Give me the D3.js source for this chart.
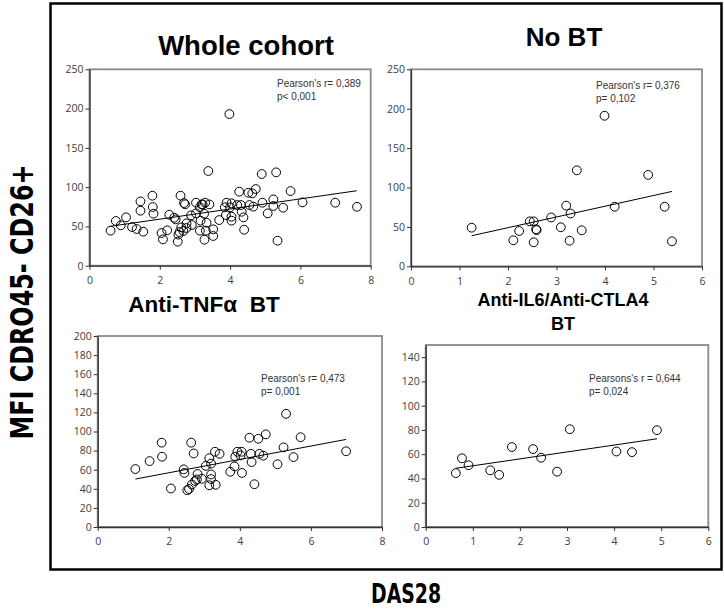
<!DOCTYPE html>
<html><head><meta charset="utf-8">
<script src="https://cdn.jsdelivr.net/npm/d3@7"></script>
<style>body{margin:0;background:#fff} text{white-space:pre}</style>
</head><body><svg id="c" width="724" height="611"></svg>
<script>
// ---------- DATA ----------
const titles = ["Whole cohort", "No BT", "Anti-TNFα  BT", "Anti-IL6/Anti-CTLA4", "BT"];
const yAxisTitle = "MFI CDRO45- CD26+";
const xAxisTitle = "DAS28";

const wholeX = [0.60,0.75,0.89,1.04,1.21,1.34,1.45,1.45,1.53,1.79,1.80,1.82,2.05,2.09,2.21,2.27,2.41,2.45,2.51,2.53,2.56,2.59,2.61,2.67,2.69,2.72,2.76,2.76,2.89,2.91,3.03,3.03,3.14,3.16,3.19,3.26,3.27,3.31,3.29,3.33,3.38,3.14,
  3.52,3.52,3.69,3.88,3.85,3.90,4.00,4.04,4.04,4.04,4.20,4.26,4.31,4.33,4.38,4.40,4.52,4.55,4.63,4.66,4.73,4.90,4.92,5.07,5.23,5.23,5.31,5.35,5.51,5.72,6.06,6.99,3.98,7.61,3.41,3.22];
const wholeY = [44.6,56.9,51.4,61.5,49.2,46.7,81.9,70.0,43.3,89.1,74.7,66.2,41.6,33.5,45.0,64.9,61.1,59.0,30.6,39.5,42.9,89.1,48.8,44.1,79.8,78.1,48.0,53.9,64.1,51.8,80.2,66.6,74.3,57.3,78.1,66.2,33.1,44.6,80.2,54.7,120.5,44.6,
  46.3,37.8,58.1,64.5,74.3,80.2,74.3,79.4,62.4,57.3,77.2,94.2,77.2,68.7,61.5,45.8,92.9,77.2,92.1,75.1,97.6,116.7,80.2,66.6,84.4,76.0,118.8,31.8,73.8,95.0,80.6,80.2,193,75,78,78];

const noBtX = [1.25,2.11,2.23,2.45,2.53,2.58,2.59,2.53,2.89,3.09,3.20,3.29,3.27,3.52,3.42,3.99,4.20,4.89,5.23,5.38];
const noBtY = [49,33,44.8,57,57,47,46,30.5,62,49.5,77,67,32.5,45.7,121.8,191,75.6,116,75.6,31.7];

const tnfX = [1.06,1.46,1.80,1.81,2.06,2.42,2.44,2.63,2.70,2.52,2.57,2.65,2.74,2.79,2.81,2.93,3.04,3.14,3.14,3.19,3.30,3.43,3.19,3.19,3.32,3.73,3.85,3.87,3.93,4.05,4.02,4.06,4.27,4.31,4.33,4.41,4.52,4.55,4.66,4.73,5.06,5.23,5.30,5.51,5.71,6.99];
const tnfY = [60.7,69,88.3,73.6,40.3,60.4,56.6,88.3,77,38.5,39.8,44.5,48.2,49.8,55.5,50.5,64,72,43.7,66.4,78.8,76.6,55,50.2,44.2,57.8,63.4,73.6,78.8,78.8,75,56.6,93.5,76.6,68,44.8,92.4,76.6,74.7,97,65.7,83.4,118.5,73.2,94,79.3];

const il6X = [0.64,0.77,0.91,1.37,1.56,1.83,2.28,2.45,2.79,3.06,4.05,4.38,4.91];
const il6Y = [44.4,56.6,50.9,46.7,43,65.9,64.2,57.1,45.6,80.6,62.2,61.7,79.8];

// trend lines: [x0, y0, x1, y1]
const wholeTrend = [0.6, 50.2, 7.6, 95.4];
const noBtTrend = [1.25, 38.8, 5.38, 95];
const tnfTrend = [1.06, 50.2, 6.99, 91.7];
const il6Trend = [0.64, 48.4, 4.91, 72.7];

const xTicks8 = [0,2,4,6,8];
const xTicks6 = [0,1,2,3,4,5,6];
const yTicks250 = [0,50,100,150,200,250];
const yTicks200 = [0,20,40,60,80,100,120,140,160,180,200];
const yTicks150 = [0,20,40,60,80,100,120,140];

const statsWhole = ["Pearson's r= 0,389", "p< 0,001"];
const statsNoBt = ["Pearson's r= 0,376", "p= 0,102"];
const statsTnf = ["Pearson's r= 0,473", "p= 0,001"];
const statsIl6 = ["Pearsons's r = 0,644", "p= 0,024"];

// ---------- DRAW ----------
const svg = d3.select("#c");
svg.append("rect").attr("x",50.5).attr("y",3.5).attr("width",671).attr("height",566)
  .attr("fill","none").attr("stroke","#000").attr("stroke-width",2.5);

const tickFont = "'Open Sans', sans-serif";

function panel(o){
  const x = d3.scaleLinear().domain([0,o.xmax]).range([o.l,o.r]);
  const y = d3.scaleLinear().domain([0,o.ymax]).range([o.b,o.t]);
  const g = svg.append("g");
  g.append("rect").attr("x",o.l).attr("y",o.t).attr("width",o.r-o.l).attr("height",o.b-o.t)
    .attr("fill","none").attr("stroke","#8a8a8a").attr("stroke-width",1.8);
  const ya = g.append("g").attr("transform",`translate(${o.l},0)`)
    .call(d3.axisLeft(y).tickValues(o.yt).tickSize(4).tickSizeOuter(0).tickFormat(d3.format("d")));
  const xa = g.append("g").attr("transform",`translate(0,${o.b})`)
    .call(d3.axisBottom(x).tickValues(o.xt).tickSize(4).tickSizeOuter(0).tickFormat(d3.format("d")));
  [ya,xa].forEach(a=>{
    a.select(".domain").attr("stroke","#333").attr("stroke-width",1.3);
    a.selectAll(".tick line").attr("stroke","#333");
    a.selectAll(".tick text").attr("fill","#404040").style("font-family",tickFont).style("font-size","10.5px");
  });
  ya.selectAll(".tick text").attr("x",-6);
  xa.selectAll(".tick text").attr("y",11);
  g.append("line").attr("x1",x(o.tr[0])).attr("y1",y(o.tr[1])).attr("x2",x(o.tr[2])).attr("y2",y(o.tr[3]))
    .attr("stroke","#000").attr("stroke-width",1);
  g.selectAll("circle").data(d3.range(o.xs.length)).join("circle")
    .attr("cx",i=>x(o.xs[i])).attr("cy",i=>y(o.ys[i])).attr("r",4.4)
    .attr("fill","none").attr("stroke","#000").attr("stroke-width",1);
  o.st.forEach((s,i)=>g.append("text").attr("x",o.sx).attr("y",o.sy+i*12.5).text(s)
    .attr("fill","#333").style("font-family","'Liberation Sans', Arial, sans-serif").style("font-size","10px"));
}

panel({xmax:8,ymax:250,l:89.5,r:370.7,t:69.3,b:265.7,xt:xTicks8,yt:yTicks250,xs:wholeX,ys:wholeY,tr:wholeTrend,st:statsWhole,sx:277,sy:87});
panel({xmax:6,ymax:250,l:411,r:702,t:69.3,b:266.3,xt:xTicks6,yt:yTicks250,xs:noBtX,ys:noBtY,tr:noBtTrend,st:statsNoBt,sx:596,sy:89});
panel({xmax:8,ymax:200,l:97.7,r:382,t:336,b:527,xt:xTicks8,yt:yTicks200,xs:tnfX,ys:tnfY,tr:tnfTrend,st:statsTnf,sx:261,sy:382});
panel({xmax:6,ymax:150,l:425.7,r:708.3,t:345,b:527,xt:xTicks6,yt:yTicks150,xs:il6X,ys:il6Y,tr:il6Trend,st:statsIl6,sx:589,sy:382});

const titleFont = "'Liberation Sans', Arial, sans-serif";
function title(t,x,y,size){
  svg.append("text").attr("x",x).attr("y",y).attr("text-anchor","middle").attr("xml:space","preserve").text(t)
    .style("font-family",titleFont).style("font-weight","bold").style("font-size",size+"px").attr("fill","#000");
}
title(titles[0],246,55,27.5);
title(titles[1],564,46,26);
title(titles[2],204,312,22.5);
title(titles[3],563,306,18);
title(titles[4],563,330,18);

svg.append("text").attr("transform","translate(33,302) rotate(-90)").attr("text-anchor","middle")
  .attr("textLength",275).attr("lengthAdjust","spacingAndGlyphs")
  .text(yAxisTitle).style("font-family","'Liberation Sans Narrow','DejaVu Sans Condensed',sans-serif")
  .style("font-weight","bold").style("font-size","32px");
svg.append("text").attr("x",406).attr("y",603).attr("text-anchor","middle")
  .attr("textLength",70).attr("lengthAdjust","spacingAndGlyphs")
  .text(xAxisTitle).style("font-family","'Liberation Sans Narrow','DejaVu Sans Condensed',sans-serif")
  .style("font-weight","bold").style("font-size","26px");
</script></body></html>
